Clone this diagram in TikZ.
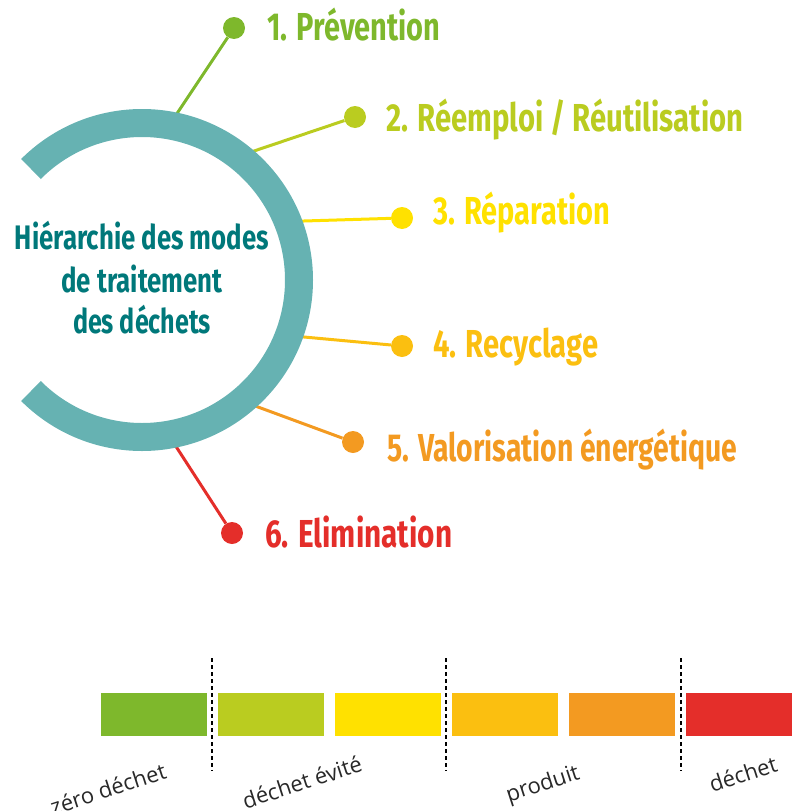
\documentclass[tikz,border=0pt]{standalone}
\usepackage{fontspec}
\usepackage{graphicx}
\newfontfamily\handfont{Fira Sans}
\newfontfamily\lightfont{Open Sans}
\definecolor{cA}{RGB}{126,184,44}
\definecolor{cB}{RGB}{186,204,32}
\definecolor{cC}{RGB}{255,225,0}
\definecolor{cD}{RGB}{251,191,16}
\definecolor{cE}{RGB}{243,154,33}
\definecolor{cF}{RGB}{228,46,42}
\definecolor{arcc}{RGB}{102,178,178}
\definecolor{titlec}{RGB}{0,120,122}
\definecolor{graytxt}{RGB}{40,40,40}
\newcommand{\fitw}[2]{\resizebox{#1pt}{\height}{#2}}
\tikzset{
  dotnode/.style={circle, fill=#1, draw=none, minimum size=22pt, inner sep=0pt},
  conn/.style={draw=#1, line width=3pt, shorten <=-8pt},
  lbl/.style={text=#1, anchor=base west, inner sep=0pt, font=\handfont\bfseries\fontsize{39}{41}\selectfont},
  ttl/.style={text=titlec, anchor=base, inner sep=0pt, font=\handfont\bfseries\fontsize{34}{36}\selectfont},
  barbox/.style={fill=#1, draw=none, minimum width=106pt, minimum height=43pt, inner sep=0pt},
  sepline/.style={draw=black, line width=1.5pt, dash pattern=on 4pt off 3pt},
  btxt/.style={text=graytxt, rotate=18, inner sep=0pt, font=\lightfont\fontsize{22}{24}\selectfont}
}
\begin{document}
\begin{tikzpicture}[x=1pt,y=-1pt]
\useasboundingbox (0,0) rectangle (792,811);
% dots
\node[dotnode=cA] (d1) at (234,28) {};
\node[dotnode=cB] (d2) at (355,117) {};
\node[dotnode=cC] (d3) at (402,218) {};
\node[dotnode=cD] (d4) at (402,346) {};
\node[dotnode=cE] (d5) at (353,442) {};
\node[dotnode=cF] (d6) at (232,533) {};
% start points on the ring
\coordinate (s1) at (178,112);
\coordinate (s2) at (257,150);
\coordinate (s3) at (304,221);
\coordinate (s4) at (304,337);
\coordinate (s5) at (258,407);
\coordinate (s6) at (177,448);
\draw[conn=cA] (s1) -- (d1);
\draw[conn=cB] (s2) -- (d2);
\draw[conn=cC] (s3) -- (d3);
\draw[conn=cD] (s4) -- (d4);
\draw[conn=cE] (s5) -- (d5);
\draw[conn=cF] (s6) -- (d6);
% ring
\coordinate (ctr) at (142,280);
\draw[line width=28pt, draw=arcc] (ctr) ++(-135:157) arc[start angle=-135, end angle=135, radius=157];
% title
\node[ttl] (h1) at (142,249) {\fitw{254}{Hiérarchie des modes}};
\node[ttl] (h2) at (142,292) {\fitw{161}{de traitement}};
\node[ttl] (h3) at (142,333) {\fitw{138}{des déchets}};
% labels
\node[lbl=cA] (t1) at (267,40) {\fitw{173}{1. Prévention}};
\node[lbl=cB] (t2) at (386,131) {\fitw{357}{2. Réemploi / Réutilisation}};
\node[lbl=cC] (t3) at (433,224) {\fitw{177}{3. Réparation}};
\node[lbl=cD] (t4) at (433,357) {\fitw{165}{4. Recyclage}};
\node[lbl=cE] (t5) at (387,461) {\fitw{350}{5. Valorisation énergétique}};
\node[lbl=cF] (t6) at (265,547) {\fitw{187}{6. Elimination}};
% bars
\node[barbox=cA] (b1) at (154,714) {};
\node[barbox=cB] (b2) at (271,714) {};
\node[barbox=cC] (b3) at (388,714) {};
\node[barbox=cD] (b4) at (505,714) {};
\node[barbox=cE] (b5) at (622,714) {};
\node[barbox=cF] (b6) at (739,714) {};
% separators
\coordinate (v1a) at (212,658); \coordinate (v1b) at (212,771);
\coordinate (v2a) at (446,658); \coordinate (v2b) at (446,771);
\coordinate (v3a) at (681,658); \coordinate (v3b) at (681,771);
\draw[sepline] (v1a) -- (v1b);
\draw[sepline] (v2a) -- (v2b);
\draw[sepline] (v3a) -- (v3b);
% bottom captions
\node[btxt] (z1) at (108,789) {zéro déchet};
\node[btxt] (z2) at (302,782) {déchet évité};
\node[btxt] (z3) at (543,785) {produit};
\node[btxt] (z4) at (743,774) {déchet};
\end{tikzpicture}
\end{document}
